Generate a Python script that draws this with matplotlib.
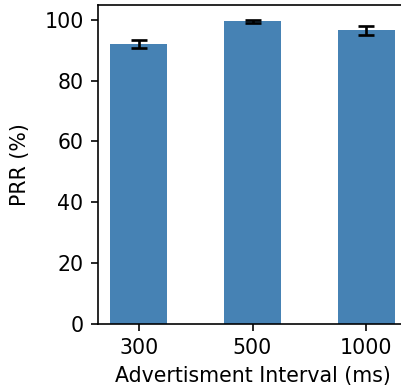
import matplotlib
matplotlib.use("Agg")
import matplotlib.pyplot as plt
import numpy as np

intervals = ["300", "500", "1000"]
prr = [92.2, 99.6, 96.6]
prr_err = [1.3, 0.4, 1.6]

DPI = 148
fig = plt.figure(figsize=(401 / DPI, 392 / DPI), dpi=DPI)
ax = fig.add_axes([98 / 401, 68.5 / 392, 309 / 401, 318.5 / 392])

x = np.arange(len(intervals))
ax.bar(x, prr, width=0.5, color="steelblue", yerr=prr_err, capsize=4,
       error_kw=dict(ecolor="black", elinewidth=1.3, capthick=1.3))
ax.set_xticks(x)
ax.set_xticklabels(intervals)
ax.set_xlim(-0.36, 2.36)
ax.set_ylim(0, 105)
ax.set_yticks([0, 20, 40, 60, 80, 100])
ax.set_xlabel("Advertisment Interval (ms)")
ax.set_ylabel("PRR (%)", labelpad=7)

fig.savefig("out.png", dpi=DPI)
